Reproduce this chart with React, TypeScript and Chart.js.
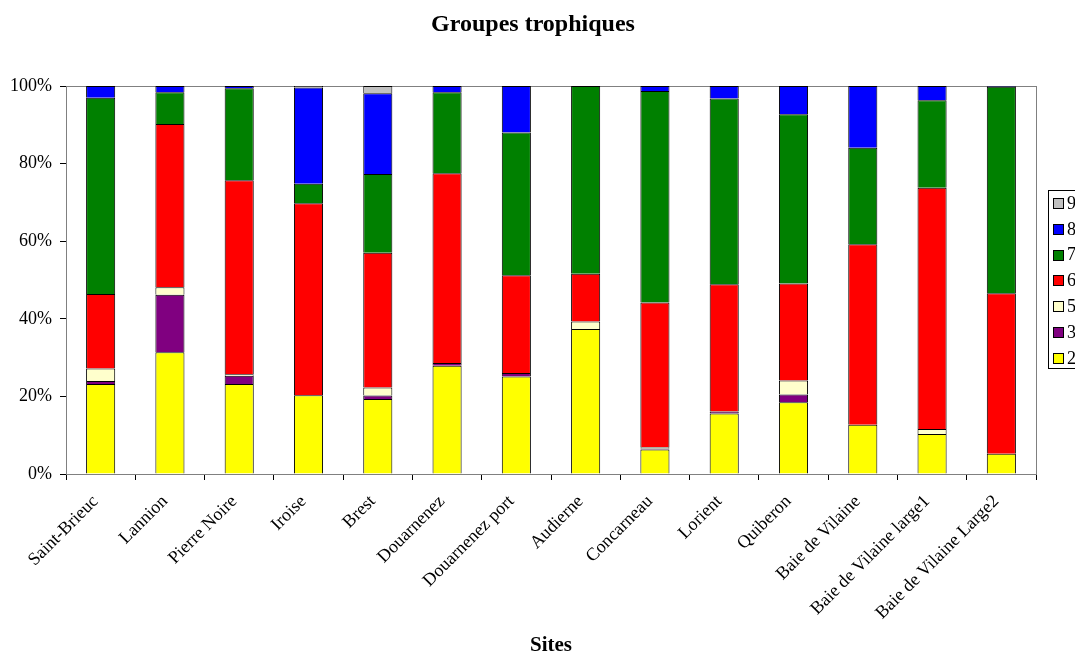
import React, { useEffect, useRef } from "react";
import { Chart, registerables } from "chart.js";

Chart.register(...registerables);

const categories = [
  "Saint-Brieuc",
  "Lannion",
  "Pierre Noire",
  "Iroise",
  "Brest",
  "Douarnenez",
  "Douarnenez port",
  "Audierne",
  "Concarneau",
  "Lorient",
  "Quiberon",
  "Baie de Vilaine",
  "Baie de Vilaine large1",
  "Baie de Vilaine Large2",
];

const g2 = [23.2, 31.4, 23.2, 20.3, 19.3, 27.9, 25.1, 37.4, 6.3, 15.6, 18.5, 12.7, 10.3, 5.2];
const g3 = [0.8, 14.8, 2.1, 0, 0.9, 0.7, 0.9, 0, 0.3, 0.5, 2.0, 0, 0, 0];
const g5 = [3.2, 1.9, 0.4, 0, 2.1, 0, 0, 1.9, 0.3, 0, 3.6, 0, 1.3, 0];
const g6 = [19.2, 42.1, 50.0, 49.5, 34.7, 48.9, 25.2, 12.3, 37.3, 32.8, 25.0, 46.5, 62.2, 41.4];
const g7 = [50.6, 8.2, 23.7, 5.0, 20.3, 20.9, 36.8, 48.4, 54.5, 47.9, 43.6, 24.9, 22.5, 53.2];
const g8 = [3.0, 1.6, 0.6, 24.8, 20.8, 1.6, 12.0, 0, 1.3, 3.2, 7.3, 15.9, 3.7, 0.2];
const g9 = [0, 0, 0, 0.4, 1.9, 0, 0, 0, 0, 0, 0, 0, 0, 0];

const seriesNames = ["2", "3", "5", "6", "7", "8", "9"];
const seriesColors = ["#FFFF00", "#800080", "#FFFFCC", "#FF0000", "#008000", "#0000FF", "#C0C0C0"];
const yTicks = [0, 20, 40, 60, 80, 100];

const chartTitle = "Groupes trophiques";
const xTitle = "Sites";

const FONT = "'Liberation Serif', 'Times New Roman', serif";

export default function App() {
  const ref = useRef<HTMLCanvasElement | null>(null);

  useEffect(() => {
    if (!ref.current) return;
    const seriesData = [g2, g3, g5, g6, g7, g8, g9];

    const decor = {
      id: "decor",
      beforeDatasetsDraw(chart: any) {
        const { ctx, chartArea } = chart;
        ctx.save();
        ctx.strokeStyle = "#808080";
        ctx.lineWidth = 1;
        ctx.strokeRect(
          Math.round(chartArea.left) + 0.5,
          Math.round(chartArea.top) + 0.5,
          Math.round(chartArea.right - chartArea.left),
          Math.round(chartArea.bottom - chartArea.top)
        );
        ctx.restore();
      },
      afterDraw(chart: any) {
        const { ctx } = chart;
        ctx.save();
        // title
        ctx.fillStyle = "#000";
        ctx.textAlign = "center";
        ctx.textBaseline = "middle";
        ctx.font = `bold 24px ${FONT}`;
        ctx.fillText(chartTitle, 533, 25);
        // x title
        ctx.font = `bold 21px ${FONT}`;
        ctx.fillText(xTitle, 551, 646);
        // legend
        const lx = 1048.5;
        const ly = 190.5;
        const lh = 178;
        ctx.strokeStyle = "#000";
        ctx.lineWidth = 1;
        ctx.strokeRect(lx, ly, 60, lh);
        const ds = chart.data.datasets;
        ctx.font = `18px ${FONT}`;
        ctx.textAlign = "left";
        for (let i = 0; i < ds.length; i++) {
          const d = ds[ds.length - 1 - i];
          const cy = 203 + i * 25.8;
          ctx.fillStyle = d.backgroundColor;
          ctx.fillRect(1053, Math.round(cy - 5), 10, 10);
          ctx.strokeRect(1053.5, Math.round(cy - 5) + 0.5, 10, 10);
          ctx.fillStyle = "#000";
          ctx.fillText(d.label, 1067, cy + 1);
        }
        ctx.restore();
      },
    };

    const chart = new Chart(ref.current, {
      type: "bar",
      data: {
        labels: categories,
        datasets: seriesNames.map((name, i) => ({
          label: name,
          data: seriesData[i],
          backgroundColor: seriesColors[i],
          borderColor: "#000000",
          borderWidth: 1,
          barPercentage: 0.42,
          categoryPercentage: 1,
        })),
      },
      options: {
        responsive: false,
        animation: false,
        devicePixelRatio: 1,
        layout: { padding: { top: 86, right: 39, left: 0, bottom: 0 } },
        plugins: {
          legend: { display: false },
          title: { display: false },
          tooltip: { enabled: false },
        },
        scales: {
          x: {
            stacked: true,
            grid: {
              offset: true,
              drawOnChartArea: false,
              drawTicks: true,
              tickLength: 6,
              color: "#000",
            },
            border: { color: "#000", width: 1 },
            ticks: {
              color: "#000",
              font: { family: FONT, size: 18 },
              minRotation: 45,
              maxRotation: 45,
              autoSkip: false,
              padding: 11,
              labelOffset: -5,
            },
            afterFit(scale: any) {
              scale.height = 181;
            },
          },
          y: {
            stacked: true,
            min: 0,
            max: 100,
            afterBuildTicks(scale: any) {
              scale.ticks = yTicks.map((v) => ({ value: v }));
            },
            grid: {
              drawOnChartArea: false,
              drawTicks: true,
              tickLength: 6,
              color: "#000",
            },
            border: { color: "#000", width: 1 },
            ticks: {
              color: "#000",
              font: { family: FONT, size: 18 },
              padding: 8,
              callback: (v: any) => `${v}%`,
            },
            afterFit(scale: any) {
              scale.width = 66;
            },
          },
        },
      },
      plugins: [decor],
    });
    return () => chart.destroy();
  }, []);

  return (
    <div style={{ position: "absolute", left: 0, top: 0, width: 1075, height: 655, overflow: "hidden", background: "#fff" }}>
      <canvas ref={ref} width={1075} height={655} style={{ width: 1075, height: 655, display: "block" }} />
    </div>
  );
}
